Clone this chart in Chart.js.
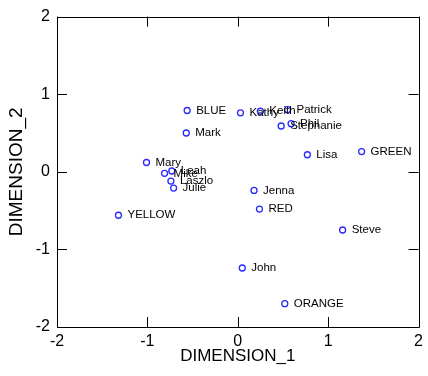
<!DOCTYPE html>
<html>
<head>
<meta charset="utf-8">
<script src="https://cdn.jsdelivr.net/npm/chart.js@4/dist/chart.umd.min.js"></script>
<style>
  html, body { margin: 0; padding: 0; background: #ffffff; }
  #wrap { width: 428px; height: 376px; }
</style>
</head>
<body>
<div id="wrap"><canvas id="c" width="428" height="376"></canvas></div>
<script>
// Configuration of people and colour words on two dimensions
const names = ['BLUE', 'Kathy', 'Keith', 'Patrick', 'Phil', 'Stephanie', 'Mark', 'Lisa', 'GREEN',
  'Mary', 'Leah', 'Mike', 'Laszlo', 'Julie', 'Jenna', 'YELLOW', 'RED', 'Steve', 'John', 'ORANGE'];
const dim1 = [-0.56, 0.03, 0.25, 0.55, 0.59, 0.48, -0.57, 0.77, 1.37,
  -1.01, -0.73, -0.81, -0.74, -0.71, 0.18, -1.32, 0.24, 1.16, 0.05, 0.52];
const dim2 = [0.79, 0.76, 0.78, 0.80, 0.62, 0.59, 0.50, 0.22, 0.26,
  0.12, 0.01, -0.02, -0.12, -0.21, -0.24, -0.56, -0.48, -0.75, -1.24, -1.70];
const axisTicks = [-2, -1, 0, 1, 2];

const points = names.map((n, i) => ({ x: dim1[i], y: dim2[i] }));

const FONT = 'Arial, "Liberation Sans", sans-serif';

// Box frame with short inward tick marks on all four sides
const framePlugin = {
  id: 'frame',
  afterDraw(chart) {
    const { ctx, chartArea: a, scales } = chart;
    const len = 10;
    ctx.save();
    ctx.strokeStyle = '#000000';
    ctx.lineWidth = 1;
    ctx.beginPath();
    ctx.rect(Math.round(a.left) + 0.5, Math.round(a.top) + 0.5,
      Math.round(a.right - a.left), Math.round(a.bottom - a.top));
    scales.x.ticks.forEach(t => {
      const px = Math.round(scales.x.getPixelForValue(t.value)) + 0.5;
      ctx.moveTo(px, a.bottom); ctx.lineTo(px, a.bottom - len);
      ctx.moveTo(px, a.top); ctx.lineTo(px, a.top + len);
    });
    scales.y.ticks.forEach(t => {
      const py = Math.round(scales.y.getPixelForValue(t.value)) + 0.5;
      ctx.moveTo(a.left, py); ctx.lineTo(a.left + len, py);
      ctx.moveTo(a.right, py); ctx.lineTo(a.right - len, py);
    });
    ctx.stroke();
    ctx.restore();
  }
};

// Name written just to the right of each point
const labelPlugin = {
  id: 'pointLabels',
  afterDatasetsDraw(chart) {
    const { ctx } = chart;
    const meta = chart.getDatasetMeta(0);
    ctx.save();
    ctx.font = '11.5px ' + FONT;
    ctx.fillStyle = '#000000';
    ctx.textAlign = 'left';
    ctx.textBaseline = 'middle';
    meta.data.forEach((el, i) => {
      ctx.fillText(names[i], el.x + 9, el.y);
    });
    ctx.restore();
  }
};

new Chart(document.getElementById('c'), {
  type: 'scatter',
  data: {
    datasets: [{
      data: points,
      pointStyle: 'circle',
      pointRadius: 3,
      pointBorderWidth: 1.3,
      pointBorderColor: '#2a2aff',
      pointBackgroundColor: '#ffffff',
      pointHoverRadius: 3
    }]
  },
  options: {
    responsive: false,
    animation: false,
    layout: { padding: { top: 14, right: 7, left: 0, bottom: 0 } },
    plugins: { legend: { display: false }, tooltip: { enabled: false } },
    scales: {
      x: {
        type: 'linear',
        min: axisTicks[0],
        max: axisTicks[axisTicks.length - 1],
        afterBuildTicks: s => { s.ticks = axisTicks.map(v => ({ value: v })); },
        afterFit: s => { s.height = 49; },
        grid: { display: false, drawTicks: false },
        border: { display: false },
        ticks: { color: '#000000', padding: 5, maxRotation: 0, font: { family: FONT, size: 16 } },
        title: {
          display: true, text: 'DIMENSION_1', color: '#000000',
          font: { family: FONT, size: 17, lineHeight: 1 }, padding: { top: 11, bottom: 11 }
        }
      },
      y: {
        type: 'linear',
        min: axisTicks[0],
        max: axisTicks[axisTicks.length - 1],
        afterBuildTicks: s => { s.ticks = axisTicks.map(v => ({ value: v })); },
        afterFit: s => { s.width = 57; },
        grid: { display: false, drawTicks: false },
        border: { display: false },
        ticks: { color: '#000000', padding: 7, font: { family: FONT, size: 16 } },
        title: {
          display: true, text: 'DIMENSION_2', color: '#000000',
          font: { family: FONT, size: 19, lineHeight: 1 }, padding: { top: 7, bottom: 7 }
        }
      }
    }
  },
  plugins: [framePlugin, labelPlugin]
});
</script>
</body>
</html>
